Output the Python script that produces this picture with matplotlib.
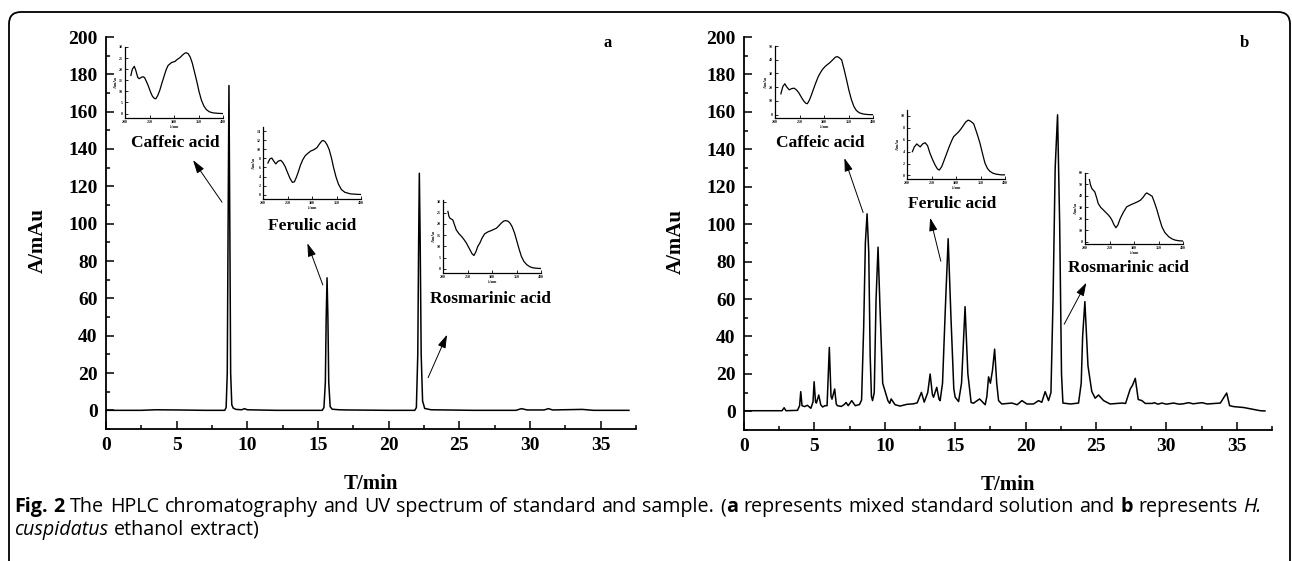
import matplotlib
matplotlib.use('Agg')
import matplotlib.pyplot as plt
from matplotlib.patches import FancyBboxPatch
from matplotlib.ticker import MultipleLocator

# ---------------- data ----------------
# Panel a: mixed standard solution (retention time, absorbance)
time_a = [0, 2.5, 3.5, 5, 7, 8.40, 8.50, 8.58, 8.64, 8.70, 8.76, 8.82, 8.90, 9.00, 9.2, 9.6,
          9.8, 10.0, 12, 15.30, 15.42, 15.52, 15.58, 15.64, 15.70, 15.76, 15.86, 16.0, 16.5,
          17, 20, 21.85, 21.96, 22.06, 22.12, 22.17, 22.23, 22.30, 22.40, 22.55, 23, 26, 29.0,
          29.4, 29.8, 31.0, 31.3, 31.6, 33, 33.7, 34.5, 37.0]
signal_a = [0, 0, 0.3, 0.2, 0, 0, 1.5, 20, 100, 174, 100, 20, 3, 1.2, 0.5, 0.3,
            0.9, 0.3, 0, 0, 1.5, 15, 50, 71, 50, 15, 2, 0.6, 0.3,
            0.2, 0, 0, 1.5, 30, 90, 127, 90, 30, 5, 1, 0.3, 0, 0,
            0.9, 0.2, 0.2, 0.9, 0.2, 0.4, 0.5, 0, 0]

# Panel b: H. cuspidatus ethanol extract
time_b = [0, 2.7, 2.85, 2.98, 3.8, 3.95, 4.03, 4.12, 4.3, 4.5, 4.75, 4.9, 4.98, 5.08, 5.14,
          5.31, 5.45, 5.59, 5.75, 5.9, 6.06, 6.18, 6.25, 6.44, 6.55, 6.63, 6.9, 7.1, 7.25,
          7.4, 7.65, 7.9, 8.2, 8.35, 8.5, 8.62, 8.74, 8.86, 8.96, 9.05, 9.13, 9.25, 9.38,
          9.52, 9.66, 9.85, 10.05, 10.22, 10.35, 10.45, 10.73, 11.09, 11.56, 12.04, 12.3,
          12.6, 12.8, 13.05, 13.22, 13.38, 13.46, 13.69, 13.85, 13.93, 14.1, 14.3, 14.5,
          14.7, 14.9, 15.0, 15.24, 15.45, 15.7, 15.9, 16.13, 16.3, 16.73, 17.0, 17.13,
          17.25, 17.37, 17.5, 17.65, 17.8, 17.95, 18.08, 18.31, 19.03, 19.4, 19.74, 20.09,
          20.56, 20.92, 21.15, 21.39, 21.63, 21.8, 21.95, 22.1, 22.27, 22.42, 22.55, 22.65,
          23.2, 23.76, 23.95, 24.05, 24.21, 24.43, 24.7, 24.94, 25.18, 25.54, 26.0, 26.84,
          27.1, 27.43, 27.6, 27.79, 28.0, 28.26, 28.5, 29.0, 29.14, 29.4, 29.68, 30.0,
          30.51, 30.9, 31.2, 31.58, 31.9, 32.53, 32.9, 33.83, 34.05, 34.28, 34.49, 34.78,
          35.5, 36.67, 37.0]
signal_b = [0.3, 0.3, 1.9, 0.3, 0.5, 3, 10.5, 3, 2.5, 3.2, 1.6, 5, 15.8, 5, 4.4,
            8.7, 3.5, 2.3, 3, 3, 34.1, 8, 6.5, 11.9, 4, 3, 2.6, 3.5, 4.7,
            3, 5.7, 3, 3.6, 6, 45, 90, 105.5, 85, 30, 8, 5.7, 10, 60,
            87.7, 55, 15, 10, 5.7, 4.2, 6.6, 3.5, 2.8, 3.7, 4, 4.5,
            10.1, 4.9, 10, 19.9, 9, 7.5, 12.8, 6.5, 5.7, 15, 55, 92.2,
            50, 12, 7.5, 5.2, 15, 55.9, 20, 4.7, 4.3, 6.6, 4.5, 3.5,
            8, 18.4, 15, 22, 33.2, 15, 5.7, 3.9, 4.4, 3.5, 5.7, 3.9,
            3.9, 5.7, 4.8, 10.5, 5.7, 10, 60, 130, 158.4, 100, 20, 4.4,
            3.9, 4.4, 15, 40, 58.6, 24.3, 10.6, 7, 8.7, 5.7, 3.9, 4.4,
            4.2, 11.9, 14, 17.6, 6.3, 5.7, 4.2, 4.2, 4.6, 3.8, 4.4, 3.8,
            4.4, 3.8, 4, 4.6, 4, 4.6, 3.9, 4.4, 7, 9.75, 3.0, 2.5,
            2, 0.3, 0.2]

# UV spectra (wavelength nm, absorbance mAu)
caffeic_a_wl = [212, 215, 219, 222, 226, 229, 233, 237, 240, 244, 248, 252, 256, 260, 263, 267,
                271, 275, 280, 284, 288, 295, 302, 306, 312, 318, 322, 325, 329, 333, 337, 341,
                346, 351, 356, 361, 366, 372, 380, 390, 400]
caffeic_a_abs = [17.2, 20.0, 21.3, 19.5, 16.3, 15.7, 16.3, 16.6, 16.2, 14.3, 12.2, 9.8, 7.8, 6.8,
                 6.7, 8.2, 10.5, 13.5, 17.0, 19.8, 21.7, 23.0, 23.5, 24.3, 25.2, 26.5, 27.2, 27.4,
                 27.0, 25.5, 23.0, 19.5, 15.0, 10.0, 6.0, 3.4, 1.8, 0.8, 0.3, 0.1, 0.0]

ferulic_a_wl = [210, 214, 218, 222, 226, 231, 236, 240, 245, 250, 255, 260, 264, 268, 272, 276,
                281, 286, 292, 298, 303, 310, 315, 320, 323, 327, 331, 335, 340, 344, 349, 354,
                360, 367, 378, 390, 400]
ferulic_a_abs = [7.0, 7.9, 8.1, 7.4, 6.8, 7.4, 7.6, 7.2, 6.25, 4.9, 3.6, 2.7, 2.8, 3.8, 5.0, 6.4,
                 7.7, 8.6, 9.2, 9.7, 9.9, 10.4, 11.2, 11.9, 12.0, 11.7, 11.0, 10.0, 8.0, 6.0, 3.9,
                 2.3, 1.1, 0.5, 0.15, 0.05, 0.0]

rosmarinic_a_wl = [210, 212, 214, 217, 220, 224, 227, 232, 238, 243, 248, 252, 255, 259, 263, 267,
                   271, 275, 280, 285, 292, 299, 304, 309, 314, 319, 324, 328, 333, 337, 341, 346,
                   350, 355, 360, 365, 371, 378, 384, 392, 400]
rosmarinic_a_abs = [25.6, 23.5, 22.6, 22.2, 21.8, 19.3, 17.4, 15.8, 14.4, 13.0, 11.4, 9.7, 8.5,
                    6.8, 5.9, 7.5, 10.0, 11.4, 13.8, 15.6, 16.5, 17.1, 17.6, 18.1, 19.2, 20.4,
                    21.3, 21.5, 21.2, 20.3, 18.8, 16.0, 12.9, 9.0, 5.5, 3.3, 1.8, 0.8, 0.4, 0.2, 0.1]

caffeic_b_wl = [212, 216, 220, 224, 229, 234, 239, 244, 249, 254, 259, 263, 266, 270, 274, 278,
                283, 288, 292, 297, 302, 307, 312, 318, 323, 327, 331, 336, 341, 346, 351, 356,
                361, 366, 372, 380, 390, 400]
caffeic_b_abs = [15.2, 20.5, 22.5, 20.2, 18.1, 19.0, 19.3, 18.0, 15.7, 12.6, 9.8, 8.3, 8.0, 10.5,
                 14.0, 18.1, 23.0, 27.5, 30.2, 33.0, 35.0, 36.5, 37.9, 40.0, 41.8, 42.3, 41.5,
                 39.9, 33.0, 25.4, 17.5, 10.9, 6.0, 3.1, 1.4, 0.5, 0.1, 0.0]

ferulic_b_wl = [211, 215, 220, 224, 227, 232, 237, 242, 247, 252, 257, 262, 266, 271, 276, 281,
                286, 291, 295, 300, 305, 310, 315, 320, 325, 330, 336, 341, 345, 349, 354, 359,
                364, 369, 376, 383, 392, 400]
ferulic_b_abs = [4.0, 4.8, 5.3, 5.0, 4.8, 5.3, 5.5, 5.0, 3.7, 2.7, 1.8, 1.1, 0.9, 1.5, 2.6, 3.7,
                 4.8, 5.8, 6.5, 6.9, 7.3, 7.8, 8.4, 9.0, 9.3, 9.1, 8.7, 7.5, 6.5, 5.4, 3.7, 2.1,
                 1.2, 0.7, 0.35, 0.2, 0.1, 0.1]

rosmarinic_b_wl = [209, 211, 214, 217, 220, 224, 227, 232, 238, 243, 248, 252, 255, 259, 263, 267,
                   272, 278, 285, 292, 299, 306, 313, 319, 323, 326, 331, 337, 342, 347, 352, 357,
                   363, 371, 378, 384, 392, 400]
rosmarinic_b_abs = [54.2, 50.0, 46.4, 45.0, 43.5, 38.0, 33.3, 30.0, 27.5, 25.3, 23.2, 21.0, 18.8,
                    15.0, 12.2, 14.5, 20.3, 25.5, 30.4, 32.0, 33.3, 34.6, 36.2, 39.0, 41.5, 42.6,
                    41.3, 39.7, 34.0, 27.5, 20.0, 13.0, 8.0, 4.3, 2.4, 1.4, 0.8, 0.6]

compound_names = ['Caffeic acid', 'Ferulic acid', 'Rosmarinic acid']
x_ticks = [0, 5, 10, 15, 20, 25, 30, 35]
y_ticks = [0, 20, 40, 60, 80, 100, 120, 140, 160, 180, 200]

# ---------------- figure ----------------
W, H = 1292, 561
fig = plt.figure(figsize=(W / 100, H / 100), dpi=100)
SERIF = ['Liberation Serif', 'DejaVu Serif']
SANS = ['Open Sans', 'DejaVu Sans']


def rect(x0, y0, x1, y1):
    """pixel box (left, top, right, bottom) -> figure fraction rect"""
    return [x0 / W, 1 - y1 / H, (x1 - x0) / W, (y1 - y0) / H]


# outer rounded frame
frame = FancyBboxPatch((0.09, -0.6), 12.81, 5.49 + 0.6,
                       boxstyle='round,pad=0,rounding_size=0.12',
                       transform=fig.dpi_scale_trans, fill=False, lw=1.3, ec='black')
fig.patches.append(frame)

ax_a = fig.add_axes(rect(106, 37, 636, 429))
ax_b = fig.add_axes(rect(744, 37, 1272, 430))


def style_main(ax, letter):
    ax.set_xlim(0, 37.5)
    ax.set_ylim(-10, 200)
    for s in ('top', 'right'):
        ax.spines[s].set_visible(False)
    for s in ('left', 'bottom'):
        ax.spines[s].set_linewidth(1.3)
    ax.set_xticks(x_ticks)
    ax.set_yticks(y_ticks)
    ax.xaxis.set_minor_locator(MultipleLocator(2.5))
    ax.yaxis.set_minor_locator(MultipleLocator(10))
    ax.tick_params(which='both', direction='in', width=1.1)
    ax.tick_params(which='major', length=5.5)
    ax.tick_params(which='minor', length=3)
    ax.tick_params(axis='y', pad=6)
    ax.tick_params(axis='x', pad=6)
    for lab in ax.get_xticklabels() + ax.get_yticklabels():
        lab.set_fontfamily(SERIF)
        lab.set_fontweight('bold')
        lab.set_fontsize(14)
    ax.set_xlabel('T/min', fontfamily=SERIF, fontweight='bold', fontsize=15)
    ax.set_ylabel('A/mAu', fontfamily=SERIF, fontweight='bold', fontsize=15)
    ax.xaxis.set_label_coords(0.5, -0.115)
    ax.yaxis.set_label_coords(-0.11, 0.48)
    ax.text(0.947, 0.985, letter, transform=ax.transAxes, ha='center', va='center',
            fontfamily=SERIF, fontweight='bold', fontsize=12)


style_main(ax_a, 'a')
style_main(ax_b, 'b')
ax_a.plot(time_a, signal_a, color='black', lw=1.1)
ax_b.plot(time_b, signal_b, color='black', lw=1.1)


def inset(box, wl, ab, ylim, ystep):
    ia = fig.add_axes(rect(*box))
    ia.plot(wl, ab, color='black', lw=0.9)
    ia.set_xlim(200, 400)
    ia.set_ylim(*ylim)
    for s in ('top', 'right'):
        ia.spines[s].set_visible(False)
    for s in ('left', 'bottom'):
        ia.spines[s].set_linewidth(0.9)
    ia.xaxis.set_major_locator(MultipleLocator(50))
    ia.xaxis.set_minor_locator(MultipleLocator(25))
    ia.yaxis.set_major_locator(MultipleLocator(ystep))
    ia.set_yticks([v for v in ia.get_yticks() if 0 <= v <= ylim[1] + 1e-9])
    ia.tick_params(which='both', direction='in', width=0.6, labelsize=2.8, pad=1.5)
    ia.tick_params(which='major', length=2)
    ia.tick_params(which='minor', length=0)
    for lab in ia.get_xticklabels() + ia.get_yticklabels():
        lab.set_fontfamily(SERIF)
        lab.set_fontweight('bold')
    ia.set_xlabel('λ/nm', fontfamily=SERIF, fontweight='bold', fontsize=2.8, labelpad=1)
    ia.set_ylabel('A/mAu', fontfamily=SERIF, fontweight='bold', fontsize=2.8, labelpad=1)
    return ia


inset((125, 47, 223, 118), caffeic_a_wl, caffeic_a_abs, (-2, 30), 5)
inset((263, 127, 361, 199), ferulic_a_wl, ferulic_a_abs, (-1, 15), 2)
inset((443, 200, 541, 273), rosmarinic_a_wl, rosmarinic_a_abs, (-1.9, 30.7), 5)
inset((775, 46, 873, 118), caffeic_b_wl, caffeic_b_abs, (-2.4, 50), 10)
inset((907, 110, 1005, 179), ferulic_b_wl, ferulic_b_abs, (-0.6, 11), 2)
inset((1085, 173, 1183, 244), rosmarinic_b_wl, rosmarinic_b_abs, (-2, 60), 10)

# compound labels and arrows (data coordinates of the chromatogram axes)
label_pos_a = [(4.88, 143), (14.58, 98.7), (27.18, 59.7)]
arrow_a = [((8.21, 111.5), (6.16, 134)), ((15.34, 67.2), (14.25, 89.5)),
           ((22.79, 17.5), (24.13, 40.5))]
label_pos_b = [(5.40, 143.5), (14.78, 111), (27.29, 76.3)]
arrow_b = [((8.46, 106.2), (7.13, 135.3)), ((13.98, 80.2), (13.22, 103.4)),
           ((22.74, 46.5), (24.31, 68.7))]

for ax, lp, ar in ((ax_a, label_pos_a, arrow_a), (ax_b, label_pos_b, arrow_b)):
    for name, (tx, ty), (tail, head) in zip(compound_names, lp, ar):
        ax.text(tx, ty, name, ha='center', va='center', fontfamily=SERIF,
                fontweight='bold', fontsize=12.5)
        ax.annotate('', xy=head, xytext=tail,
                    arrowprops=dict(arrowstyle='-|>,head_length=0.8,head_width=0.25',
                                    lw=0.7, color='black', shrinkA=0, shrinkB=0))

# ---------------- caption ----------------
# each word is a list of (text, weight, style) pieces
caption_line1 = [[('Fig.', 'bold', 'normal')], [('2', 'bold', 'normal')],
                 [('The', 'normal', 'normal')], [('HPLC', 'normal', 'normal')],
                 [('chromatography', 'normal', 'normal')], [('and', 'normal', 'normal')],
                 [('UV', 'normal', 'normal')], [('spectrum', 'normal', 'normal')],
                 [('of', 'normal', 'normal')], [('standard', 'normal', 'normal')],
                 [('and', 'normal', 'normal')], [('sample.', 'normal', 'normal')],
                 [('(', 'normal', 'normal'), ('a', 'bold', 'normal')],
                 [('represents', 'normal', 'normal')], [('mixed', 'normal', 'normal')],
                 [('standard', 'normal', 'normal')], [('solution', 'normal', 'normal')],
                 [('and', 'normal', 'normal')], [('b', 'bold', 'normal')],
                 [('represents', 'normal', 'normal')], [('H.', 'normal', 'italic')]]
caption_line2 = [[('cuspidatus', 'normal', 'italic')], [('ethanol', 'normal', 'normal')],
                 [('extract)', 'normal', 'normal')]]

CAP_FS = 14.2
X_LEFT = 14
fig.canvas.draw()
r = fig.canvas.get_renderer()


def make_word(word, ybase):
    pieces = []
    x = 0.0
    for txt, wt, st in word:
        t = fig.text(0, 1 - ybase / H, txt, ha='left', va='baseline', fontfamily=SANS,
                     fontweight=wt, fontstyle=st, fontsize=CAP_FS)
        w = t.get_window_extent(r).width
        pieces.append((t, x))
        x += w + 0.5
    return pieces, x


def place_line(words, ybase):
    built = [make_word(w, ybase) for w in words]
    sp = fig.text(0, 0, 'a a', fontfamily=SANS, fontsize=CAP_FS)
    sp2 = fig.text(0, 0, 'aa', fontfamily=SANS, fontsize=CAP_FS)
    gap = sp.get_window_extent(r).width - sp2.get_window_extent(r).width
    sp.remove()
    sp2.remove()
    x = X_LEFT
    for pieces, wlen in built:
        for t, off in pieces:
            t.set_x((x + off) / W)
        x += wlen + gap


place_line(caption_line1, 512)
place_line(caption_line2, 535)

fig.savefig('out.png', dpi=100)
